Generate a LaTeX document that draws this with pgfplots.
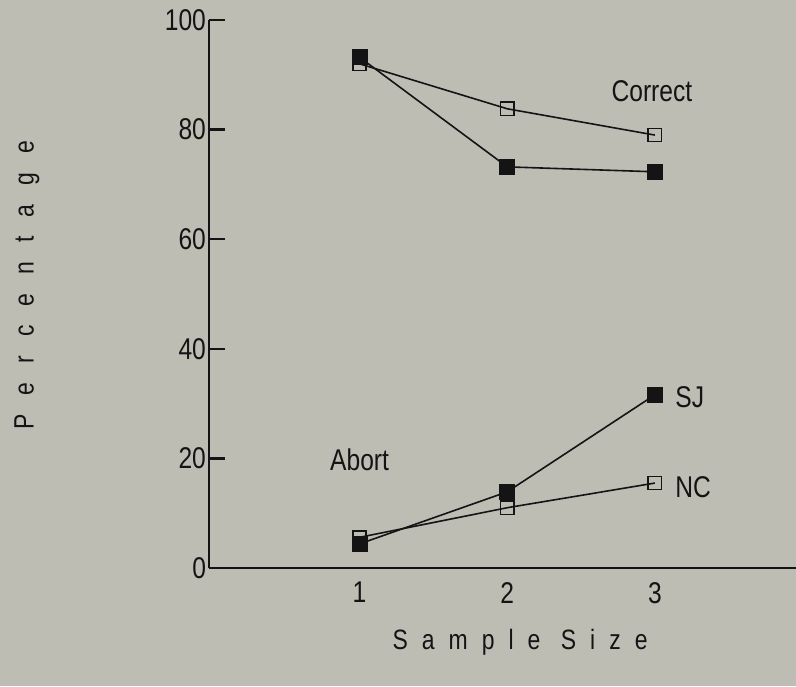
\documentclass[border=0pt]{standalone}
\usepackage{fontspec}
\setmainfont{Liberation Sans}[FakeStretch=0.82]
\usepackage{pgfplots}
\pgfplotsset{compat=1.18}
\usetikzlibrary{calc,backgrounds}
\definecolor{bg}{RGB}{190,189,180}
\definecolor{ink}{RGB}{20,20,20}
\begin{document}
\begin{tikzpicture}
\begin{axis}[name=ax, scale only axis, width=293.5pt, height=274pt,
  xmin=-0.02, xmax=3.956, ymin=0, ymax=100,
  axis x line=bottom, axis y line=left,
  axis line style={-, line width=1.2pt, ink},
  xtick={1,2,3}, ytick={0,20,40,60,80,100},
  tick align=inside, major tick length=8pt,
  x tick style={draw=none}, y tick style={line width=1.1pt, ink},
  ticklabel style={font=\fontsize{15}{15}\selectfont, text=ink},
  xticklabel style={yshift=-3.5pt},
  yticklabel style={xshift=2pt},
  /pgf/number format/assume math mode=true,
  clip=false,
  every axis plot/.append style={ink, line width=0.8pt},
]
% NC (open) correct
\addplot[mark=square, mark size=3.3pt, mark options={fill=bg, solid, line width=0.8pt}]
  coordinates {(1,92.0) (2,83.8) (3,79.0)};
% SJ (filled) correct
\addplot[mark=square*, mark size=3.6pt, mark options={fill=ink, solid}]
  coordinates {(1,93.2) (2,73.2) (3,72.3)};
% NC (open) abort
\addplot[mark=square, mark size=3.3pt, mark options={fill=bg, solid, line width=0.8pt}]
  coordinates {(1,5.6) (2,11.0) (3,15.5)};
% SJ (filled) abort
\addplot[mark=square*, mark size=3.6pt, mark options={fill=ink, solid}]
  coordinates {(1,4.4) (2,13.9) (3,31.6)};

\node[font=\fontsize{15}{15}\selectfont, text=ink] at (axis cs:2.98,87) {Correct};
\node[font=\fontsize{15}{15}\selectfont, text=ink] at (axis cs:1.0,19.7) {Abort};
\node[font=\fontsize{15}{15}\selectfont, text=ink, anchor=west, inner sep=0pt] at (axis cs:3.136,31.2) {SJ};
\node[font=\fontsize{15}{15}\selectfont, text=ink, anchor=west, inner sep=0pt] at (axis cs:3.136,14.8) {NC};

\node[font=\fontsize{14}{14}\selectfont\addfontfeature{LetterSpace=50}, text=ink]
  at ($(rel axis cs:0.525,0)+(0,-37pt)$) {Sample Size};
\node[rotate=90, font=\fontsize{14}{14}\selectfont\addfontfeature{LetterSpace=68}, text=ink]
  at ($(rel axis cs:0,0.516)+(-92.5pt,0)$) {Percentage};
\end{axis}
\begin{scope}[on background layer]
\fill[bg] ($(ax.south west)+(-104.5pt,-59pt)$) rectangle ($(ax.north east)+(0,10pt)$);
\end{scope}
\pgfresetboundingbox
\path[use as bounding box] ($(ax.south west)+(-104.5pt,-59pt)$) rectangle ($(ax.north east)+(0,10pt)$);
\end{tikzpicture}
\end{document}
